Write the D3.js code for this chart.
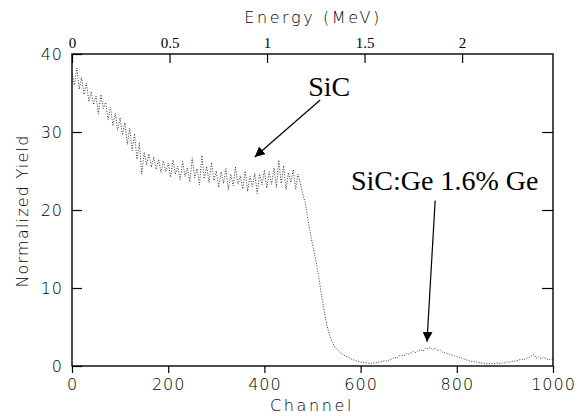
<!DOCTYPE html>
<html>
<head>
<meta charset="utf-8">
<script src="https://cdn.jsdelivr.net/npm/d3@7"></script>
<style>
  body { margin: 0; background: #fff; }
  .tk text { font-family: "DejaVu Sans", sans-serif; font-weight: 200; font-size: 16px; letter-spacing: 1px; fill: #000; }
  .tk line { stroke: #000; stroke-width: 1.2; }
  .tk .domain { display: none; }
  .top text { font-family: "Liberation Serif", "Times New Roman", serif; font-weight: 400; font-size: 15px; letter-spacing: 0; }
  .ttl { font-family: "DejaVu Sans", sans-serif; font-weight: 200; font-size: 16px; fill: #000; }
</style>
</head>
<body>
<script>
// RBS spectrum, channel step 5
const channelStep = 5;
const yieldValues = [
  37.5, 36.0, 38.2, 35.5, 37.0, 34.8, 36.3, 33.9, 35.2, 33.5,
  34.6, 32.3, 34.8, 33.0, 33.8, 31.6, 33.2, 30.8, 32.4, 30.2,
  31.8, 29.6, 31.2, 28.4, 30.5, 27.6, 29.8, 26.5, 28.6, 24.6,
  27.4, 25.8, 27.2, 25.5, 26.8, 25.2, 26.5, 24.8, 26.3, 24.9,
  26.0, 24.2, 26.4, 24.6, 25.6, 23.9, 26.2, 24.3, 25.4, 23.6,
  26.7, 24.1, 25.3, 23.2, 27.0, 24.0, 25.6, 23.5, 26.1, 23.8,
  25.0, 22.9, 24.9, 23.4, 25.3, 22.6, 24.6, 23.1, 25.5, 23.3,
  24.4, 22.7, 25.0, 22.4, 24.3, 23.0, 24.7, 22.1, 24.6, 23.2,
  25.1, 22.8, 24.9, 23.3, 25.4, 22.9, 26.4, 23.4, 25.7, 22.6,
  24.8, 23.5, 25.2, 22.7, 24.6, 23.4, 22.0, 20.9, 19.0, 17.2,
  15.6, 14.2, 12.5, 10.6, 8.6, 6.8, 5.2, 4.0, 3.2, 2.6,
  2.2, 1.9, 1.6, 1.4, 1.2, 1.1, 0.9, 0.8, 0.7, 0.6,
  0.5, 0.5, 0.4, 0.4, 0.3, 0.4, 0.4, 0.5, 0.5, 0.6,
  0.7, 0.6, 0.8, 0.9, 1.1, 1.0, 1.3, 1.4, 1.3, 1.6,
  1.5, 1.7, 1.9, 1.7, 2.0, 2.1, 1.9, 2.3, 2.2, 2.4,
  2.1, 2.3, 2.0, 2.1, 1.8, 1.7, 1.6, 1.5, 1.4, 1.3,
  1.2, 1.1, 1.0, 0.9, 0.8, 0.7, 0.6, 0.6, 0.5, 0.5,
  0.4, 0.4, 0.3, 0.3, 0.3, 0.3, 0.3, 0.4, 0.3, 0.4,
  0.4, 0.5, 0.5, 0.6, 0.6, 0.7, 0.8, 0.9, 0.8, 1.0,
  1.1, 1.3, 1.5, 1.0, 1.2, 0.9, 1.1, 1.0, 0.8, 0.9, 0.8
];
const channelTicks = [0, 200, 400, 600, 800, 1000];
const yieldTicks = [0, 10, 20, 30, 40];
const energyTicks = [0, 0.5, 1, 1.5, 2];
const channelsPerMeV = 405.5;

// annotations: label, text anchor point, arrow tail, arrow tip (channel, yield)
const labels = ['SiC', 'SiC:Ge 1.6% Ge'];
const labelAt = [[491, 34.6], [580, 22.6]];
const arrowFrom = [[516, 34.1], [755, 21.2]];
const arrowTo = [[380, 26.8], [738, 3.1]];

const W = 586, H = 416;
const m = { l: 72, r: 33, t: 54, b: 50 };

const svg = d3.select('body').append('svg').attr('width', W).attr('height', H);

const x = d3.scaleLinear().domain([0, 1000]).range([m.l, W - m.r]);
const y = d3.scaleLinear().domain([0, 40]).range([H - m.b, m.t]);
const xE = d3.scaleLinear().domain([0, 1000 / channelsPerMeV]).range([m.l, W - m.r]);

const data = yieldValues.map((v, i) => [i * channelStep, v]);

// spectrum (dotted)
svg.append('path')
  .datum(data)
  .attr('fill', 'none')
  .attr('stroke', '#333')
  .attr('stroke-width', 1)
  .attr('stroke-dasharray', '1,1.6')
  .attr('d', d3.line().x(d => x(d[0])).y(d => y(d[1])));

// frame
svg.append('rect')
  .attr('x', x(0)).attr('y', y(40))
  .attr('width', x(1000) - x(0)).attr('height', y(0) - y(40))
  .attr('fill', 'none').attr('stroke', '#000').attr('stroke-width', 1.4);

// axes
svg.append('g').attr('class', 'tk')
  .attr('transform', `translate(0,${y(0)})`)
  .call(d3.axisBottom(x).tickValues(channelTicks).tickSize(7).tickPadding(6).tickFormat(d3.format('d')));

svg.append('g').attr('class', 'tk')
  .attr('transform', `translate(${x(0)},0)`)
  .call(d3.axisLeft(y).tickValues(yieldTicks).tickSize(-10).tickPadding(9));

svg.append('g').attr('class', 'tk')
  .attr('transform', `translate(${x(1000)},0)`)
  .call(d3.axisRight(y).tickValues(yieldTicks.slice(1, -1)).tickSize(-11).tickFormat(''));

svg.append('g').attr('class', 'tk top')
  .attr('transform', `translate(0,${y(40)})`)
  .call(d3.axisTop(xE).tickValues(energyTicks).tickSize(-9).tickPadding(6).tickFormat(d3.format('')));

// titles
svg.append('text').attr('class', 'ttl').attr('x', 313).attr('y', 23).attr('text-anchor', 'middle')
  .style('letter-spacing', '2.6px').text('Energy  (MeV)');
svg.append('text').attr('class', 'ttl').attr('x', 312).attr('y', 411).attr('text-anchor', 'middle')
  .style('letter-spacing', '2.6px').text('Channel');
svg.append('text').attr('class', 'ttl').attr('transform', 'translate(28,211) rotate(-90)').attr('text-anchor', 'middle')
  .style('letter-spacing', '1.2px').text('Normalized Yield');

// annotations
svg.append('defs').append('marker')
  .attr('id', 'ah').attr('viewBox', '0 0 10 10').attr('refX', 10).attr('refY', 5)
  .attr('markerWidth', 10).attr('markerHeight', 10).attr('markerUnits', 'userSpaceOnUse')
  .attr('orient', 'auto')
  .append('path').attr('d', 'M0,0L10,5L0,10Z').attr('fill', '#000');

labels.forEach((t, i) => {
  svg.append('text')
    .attr('x', x(labelAt[i][0])).attr('y', y(labelAt[i][1]))
    .style('font-family', '"Liberation Serif", "Times New Roman", serif')
    .style('font-size', '28px').attr('fill', '#000').text(t);
  svg.append('line')
    .attr('x1', x(arrowFrom[i][0])).attr('y1', y(arrowFrom[i][1]))
    .attr('x2', x(arrowTo[i][0])).attr('y2', y(arrowTo[i][1]))
    .attr('stroke', '#000').attr('stroke-width', 1.2)
    .attr('marker-end', 'url(#ah)');
});
</script>
</body>
</html>
